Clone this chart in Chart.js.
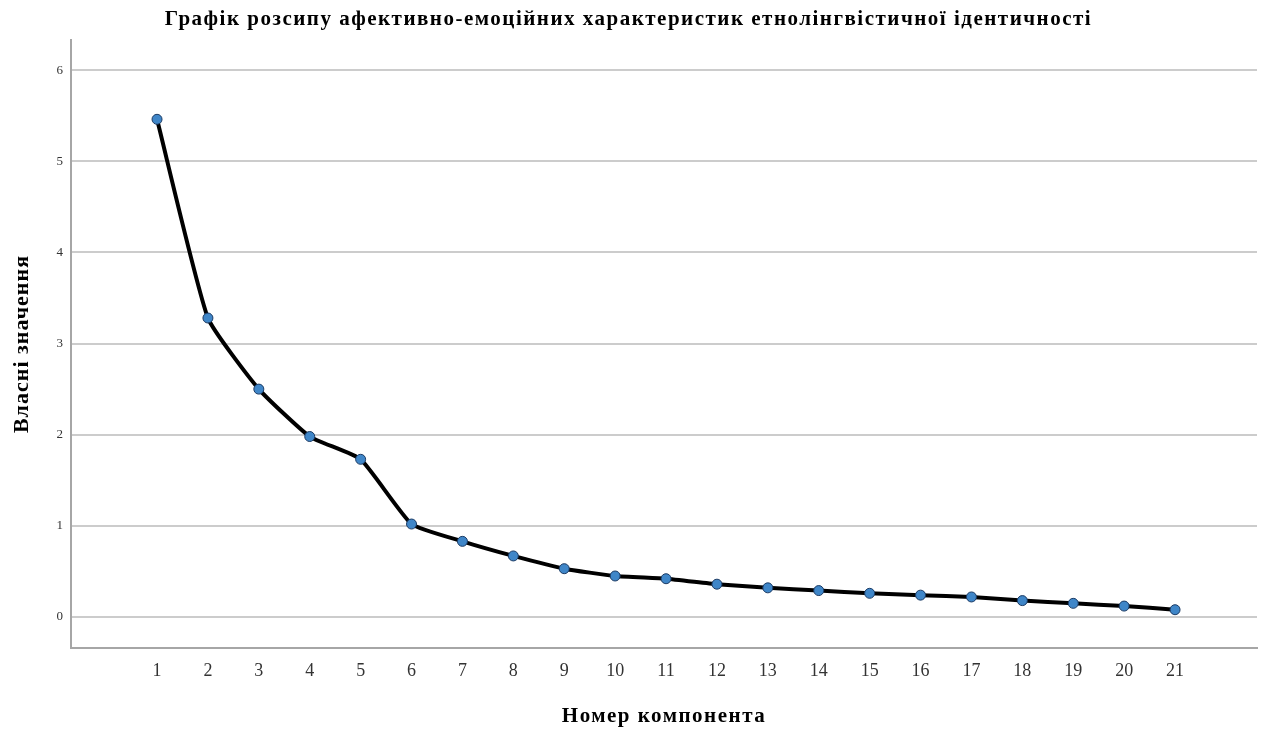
<!DOCTYPE html>
<html><head><meta charset="utf-8">
<script src="https://cdn.jsdelivr.net/npm/chart.js@4"></script>
<style>html,body{margin:0;padding:0;background:#fff}#wrap{width:1267px;height:729px}</style>
</head><body><div id="wrap"><canvas id="c" width="1267" height="729"></canvas></div>
<script>
const chartTitle = 'Графік розсипу афективно-емоційних характеристик етнолінгвістичної ідентичності';
const xTitle = 'Номер компонента';
const yTitle = 'Власні значення';
const components = [1,2,3,4,5,6,7,8,9,10,11,12,13,14,15,16,17,18,19,20,21];
const eigenvalues = [5.46,3.28,2.50,1.98,1.73,1.02,0.83,0.67,0.53,0.45,0.42,0.36,0.32,0.29,0.26,0.24,0.22,0.18,0.15,0.12,0.08];
const yTicks = [0,1,2,3,4,5,6];

const serif = "'Liberation Serif','DejaVu Serif',serif";

function withSpacing(obj, method, spacing) {
  if (!obj || obj['__sp_' + method]) return;
  const orig = obj[method];
  obj[method] = function () {
    const ctx = this.ctx || (this.chart && this.chart.ctx);
    ctx.save();
    ctx.letterSpacing = spacing;
    const r = orig.apply(this, arguments);
    ctx.restore();
    return r;
  };
  obj['__sp_' + method] = true;
}
const spacingPlugin = {
  id: 'spacing',
  beforeDraw(chart) {
    withSpacing(chart.titleBlock, 'draw', '1.5px');
    withSpacing(chart.scales.x, 'drawTitle', '1.5px');
    withSpacing(chart.scales.y, 'drawTitle', '1px');
  }
};

new Chart(document.getElementById('c'), {
  type: 'line',
  data: {
    datasets: [{
      data: components.map((c,i)=>({x:c,y:eigenvalues[i]})),
      borderColor: '#000',
      borderWidth: 4,
      tension: 0.15,
      pointRadius: 5,
      pointBackgroundColor: '#3f86c8',
      pointBorderColor: '#1b3a63',
      pointBorderWidth: 1
    }]
  },
  plugins: [spacingPlugin],
  options: {
    responsive: false,
    animation: false,
    layout: { padding: { left: 0, right: 10, top: 0, bottom: 0 } },
    plugins: {
      legend: { display: false },
      tooltip: { enabled: false },
      title: {
        display: true, text: chartTitle, color: '#000',
        font: { family: serif, size: 21, weight: 'bold' },
        padding: { top: 7.4, bottom: 7.4 }
      }
    },
    scales: {
      x: {
        type: 'linear', min: -0.69, max: 22.61,
        afterBuildTicks: s => { s.ticks = components.map(v=>({value:v})); },
        afterFit: s => { s.height = 81; },
        ticks: { color: '#333', padding: 12, font: { family: serif, size: 18 }, callback: v => String(v) },
        grid: { display: false, drawTicks: false },
        border: { display: true, color: '#a6a6a6', width: 2 },
        title: { display: true, text: xTitle, color: '#000', font: { family: serif, size: 21, weight: 'bold' }, padding: { top: 0, bottom: 0 } }
      },
      y: {
        min: -0.34, max: 6.33,
        afterBuildTicks: s => { s.ticks = yTicks.map(v=>({value:v})); },
        afterFit: s => { s.width = 71; },
        ticks: { color: '#333', padding: 8, font: { family: serif, size: 13 }, callback: v => String(v) },
        grid: { color: '#cccccc', lineWidth: 2, drawTicks: false },
        border: { display: true, color: '#a6a6a6', width: 2 },
        title: { display: true, text: yTitle, color: '#000', font: { family: serif, size: 22, weight: 'bold' }, padding: { top: 9, bottom: 0 } }
      }
    }
  }
});
</script></body></html>
